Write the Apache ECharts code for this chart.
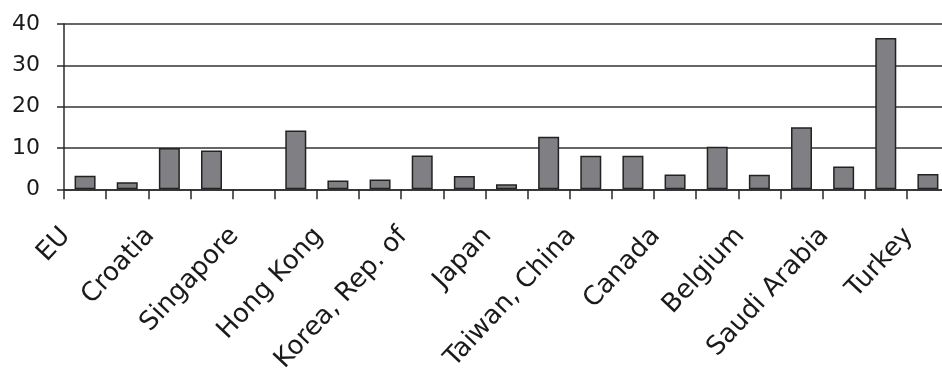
<!DOCTYPE html>
<html>
<head>
<meta charset="utf-8">
<script src="https://cdn.jsdelivr.net/npm/echarts@6/dist/echarts.min.js"></script>
<style>
html,body{margin:0;padding:0;background:#fff;}
#chart{width:942px;height:370px;}
</style>
</head>
<body>
<div id="chart"></div>
<script>
// Categories (only every other one is labelled in the original)
var categories = ['EU', '', 'Croatia', '', 'Singapore', '', 'Hong Kong', '', 'Korea, Rep. of', '', 'Japan', '',
  'Taiwan, China', '', 'Canada', '', 'Belgium', '', 'Saudi Arabia', '', 'Turkey'];
var values = [3.3, 1.7, 10.0, 9.4, null, 14.2, 2.1, 2.4, 8.2, 3.2, 1.2, 12.7, 8.1, 8.1, 3.6, 10.3, 3.5, 15.0, 5.5, 36.6, 3.7];
var yTicks = [0, 10, 20, 30, 40];

var chart = echarts.init(document.getElementById('chart'));
chart.setOption({
  animation: false,
  backgroundColor: '#ffffff',
  grid: { left: 64, top: 24, width: 885, height: 165.3, containLabel: false, outerBoundsMode: 'none' },
  xAxis: {
    type: 'category',
    data: categories,
    boundaryGap: true,
    axisLine: { show: true, lineStyle: { color: '#2a2a2a', width: 1.5 } },
    axisTick: { show: true, interval: 0, length: 10, lineStyle: { color: '#2a2a2a', width: 1.5 } },
    axisLabel: {
      interval: 0, rotate: 47, margin: 22, padding: [0, 28, 0, 0],
      color: '#1a1a1a', fontFamily: 'DejaVu Sans', fontSize: 26
    },
    splitLine: { show: false }
  },
  yAxis: {
    type: 'value',
    min: yTicks[0], max: yTicks[yTicks.length - 1], interval: 10,
    axisLine: { show: true, lineStyle: { color: '#2a2a2a', width: 1.5 } },
    axisTick: { show: true, length: 7, lineStyle: { color: '#2a2a2a', width: 1.5 } },
    axisLabel: { margin: 24, color: '#1a1a1a', fontFamily: 'DejaVu Sans', fontSize: 22 },
    splitLine: { show: true, lineStyle: { color: '#333333', width: 1.5 } }
  },
  series: [{
    type: 'bar',
    data: values,
    barWidth: 21,
    itemStyle: { color: '#808084', borderColor: '#222222', borderWidth: 1.5 }
  }]
});
</script>
</body>
</html>
